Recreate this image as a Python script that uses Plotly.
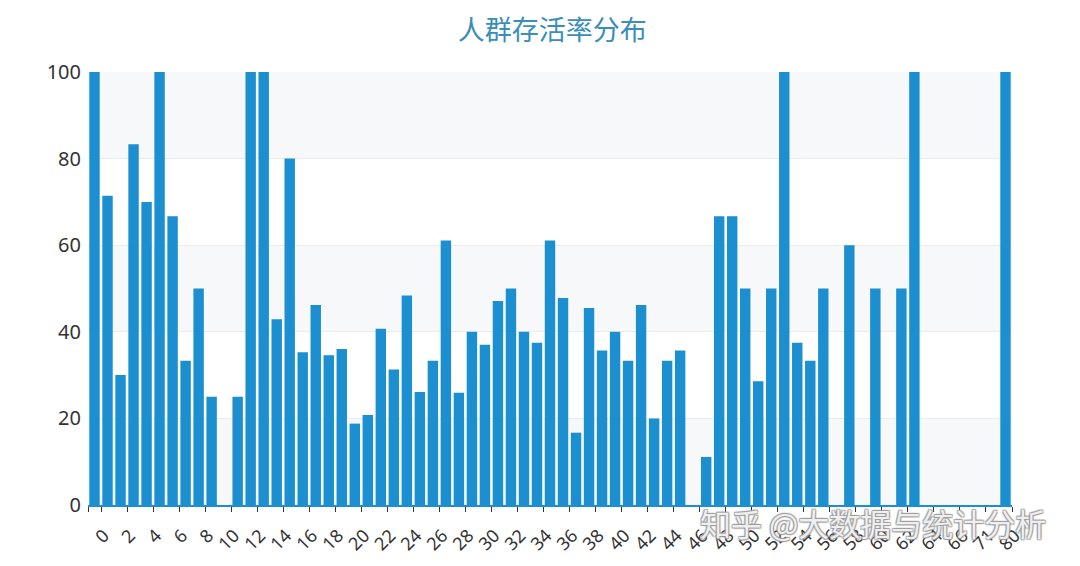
import plotly.graph_objects as go

# Age groups (floored age) and survival rate in percent
ages = [str(a) for a in range(0, 67)] + ['70', '71', '74', '80']
survival_rate = [
    100, 71.4, 30.0, 83.3, 70.0, 100, 66.7, 33.3, 50.0, 25.0,
    0, 25.0, 100, 100, 42.9, 80.0, 35.3, 46.2, 34.6, 36.0,
    18.8, 20.8, 40.7, 31.3, 48.4, 26.1, 33.3, 61.1, 25.9, 40.0,
    37.0, 47.1, 50.0, 40.0, 37.5, 61.1, 47.8, 16.7, 45.5, 35.7,
    40.0, 33.3, 46.2, 20.0, 33.3, 35.7, 0, 11.1, 66.7, 66.7,
    50.0, 28.6, 50.0, 100, 37.5, 33.3, 50.0, 0, 60.0, 0,
    50.0, 0, 50.0, 100, 0, 0, 0,
    0, 0, 0, 100,
]
y_ticks = [0, 20, 40, 60, 80, 100]

bar_color = '#1b8fcf'

# bars sit at slot positions; every other age is labelled at the slot boundary
pos = list(range(len(ages)))
tick_pos = [-0.5] + [p + 0.5 for p in pos[::2]]
tick_text = [''] + ages[::2]

fig = go.Figure()

fig.add_trace(go.Bar(
    x=pos,
    y=survival_rate,
    customdata=ages,
    width=0.8,
    marker=dict(color=bar_color, line=dict(width=0)),
    hovertemplate='年龄: %{customdata}<br>存活率: %{y:.1f}%<extra></extra>',
))

# alternating light bands behind the bars (0-20, 40-60, 80-100)
for lo, hi in zip(y_ticks[:-1:2], y_ticks[1::2]):
    fig.add_shape(type='rect', xref='paper', yref='y', x0=0, x1=1, y0=lo, y1=hi,
                  fillcolor='#f7f8fa', line=dict(width=0), layer='below')

# the page body adds an 8px offset, margins are set to compensate
fig.update_layout(
    title=dict(text='人群存活率分布', x=0.504, xanchor='center', y=0.961, yanchor='middle',
               font=dict(family='Noto Sans CJK SC', size=27, color='#3a8fb8')),
    width=1080, height=566,
    margin=dict(l=80, r=76, t=64, b=69),
    plot_bgcolor='white',
    paper_bgcolor='white',
    showlegend=False,
    font=dict(family='Noto Sans', color='#333'),
)

fig.update_xaxes(
    range=[-0.5, len(ages) - 0.5],
    tickvals=tick_pos,
    ticktext=tick_text,
    tickangle=-45,
    tickfont=dict(size=18, color='#333'),
    ticks='outside', ticklen=5, tickcolor='#333',
    ticklabelstandoff=6, ticklabelshift=3,
    showline=True, linecolor=bar_color, linewidth=2,
    showgrid=False, zeroline=False,
)

fig.update_yaxes(
    range=[0, 100],
    tickvals=y_ticks,
    tickfont=dict(size=20, color='#333'),
    showgrid=True, gridcolor='#ececec', gridwidth=1,
    zeroline=False, showline=False,
    ticks='', ticklabelstandoff=6,
)

# site watermark
fig.add_annotation(
    text='知乎 @大数据与统计分析', xref='paper', yref='paper', x=0.85, y=-0.04,
    xanchor='center', yanchor='middle', showarrow=False,
    font=dict(family='Noto Sans CJK SC', size=31, color='rgba(255,255,255,0.85)',
              shadow='1px 1px 1px #999, -1px -1px 1px #999, 1px -1px 1px #999, -1px 1px 1px #999'),
)

fig.write_html('out.html')
